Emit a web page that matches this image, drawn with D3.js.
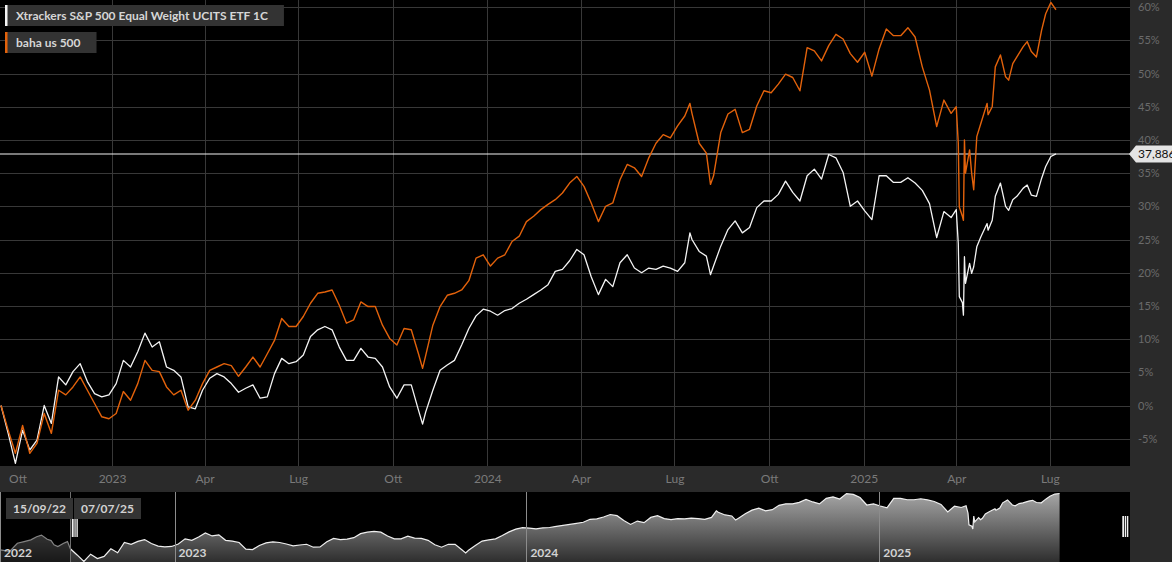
<!DOCTYPE html>
<html><head><meta charset="utf-8">
<script src="https://cdn.jsdelivr.net/npm/d3@7"></script>
<style>
html,body{margin:0;padding:0;background:#000;overflow:hidden;}
svg{display:block;font-family:Lato,"Noto Sans",sans-serif;}
</style></head><body>
<svg id="chart" width="1172" height="562"></svg>
<script>
// ---------- DATA ----------
const seriesNames = ["Xtrackers S&P 500 Equal Weight UCITS ETF 1C", "baha us 500"];
const dates = [
"2022-09-15","2022-09-22","2022-09-29","2022-10-06","2022-10-13","2022-10-20","2022-10-27","2022-11-03","2022-11-10","2022-11-17",
"2022-11-24","2022-12-01","2022-12-08","2022-12-15","2022-12-22","2022-12-29","2023-01-05","2023-01-12","2023-01-19","2023-01-26",
"2023-02-02","2023-02-09","2023-02-16","2023-02-23","2023-03-02","2023-03-09","2023-03-16","2023-03-23","2023-03-30","2023-04-06",
"2023-04-13","2023-04-20","2023-04-27","2023-05-04","2023-05-11","2023-05-18","2023-05-25","2023-06-01","2023-06-08","2023-06-15",
"2023-06-22","2023-06-29","2023-07-06","2023-07-13","2023-07-20","2023-07-27","2023-08-03","2023-08-10","2023-08-17","2023-08-24",
"2023-08-31","2023-09-07","2023-09-14","2023-09-21","2023-09-28","2023-10-05","2023-10-12","2023-10-19","2023-10-26","2023-10-30",
"2023-11-02","2023-11-09","2023-11-16","2023-11-23","2023-11-30","2023-12-07","2023-12-14","2023-12-21","2023-12-28","2024-01-04",
"2024-01-11","2024-01-18","2024-01-25","2024-02-01","2024-02-08","2024-02-15","2024-02-22","2024-02-29","2024-03-07","2024-03-14",
"2024-03-21","2024-03-28","2024-04-04","2024-04-11","2024-04-18","2024-04-25","2024-05-02","2024-05-09","2024-05-16","2024-05-23",
"2024-05-30","2024-06-06","2024-06-13","2024-06-20","2024-06-27","2024-07-04","2024-07-11","2024-07-16","2024-07-18","2024-07-25",
"2024-08-01","2024-08-05","2024-08-08","2024-08-15","2024-08-22","2024-08-29","2024-09-05","2024-09-12","2024-09-19","2024-09-26",
"2024-10-03","2024-10-10","2024-10-17","2024-10-24","2024-10-31","2024-11-07","2024-11-14","2024-11-21","2024-11-28","2024-12-05",
"2024-12-12","2024-12-19","2024-12-26","2025-01-02","2025-01-09","2025-01-16","2025-01-23","2025-01-30","2025-02-06","2025-02-13",
"2025-02-20","2025-02-27","2025-03-06","2025-03-13","2025-03-20","2025-03-27","2025-04-01","2025-04-03","2025-04-04","2025-04-07",
"2025-04-08","2025-04-09","2025-04-10","2025-04-14","2025-04-16","2025-04-18","2025-04-21","2025-04-25","2025-05-01","2025-05-02",
"2025-05-06","2025-05-09","2025-05-14","2025-05-19","2025-05-22","2025-05-26","2025-05-30","2025-06-05","2025-06-09","2025-06-13",
"2025-06-18","2025-06-23","2025-06-27","2025-07-02","2025-07-07"
];
const xtrackers = [
0,-4.2,-8.7,-3.7,-6.7,-5.2,0.0,-2.7,4.3,3.1,
5.1,6.3,3.6,1.8,1.3,1.6,3.3,6.8,5.8,8.1,
10.9,8.8,9.6,5.8,5.3,4.3,-0.2,-0.5,2.3,4.1,
4.8,4.3,3.3,2.0,2.6,3.1,1.1,1.3,4.8,7.1,
6.3,6.6,7.6,10.4,11.4,11.9,11.4,8.8,6.8,6.8,
8.6,7.3,7.1,5.8,2.8,1.1,3.1,3.1,-0.7,-2.8,
-1.0,2.3,5.3,6.1,6.8,9.1,11.6,13.5,14.5,14.2,
13.6,14.3,14.6,15.4,16.0,16.7,17.4,18.2,20.2,20.5,
21.8,23.5,22.7,19.4,16.7,19.0,17.9,21.5,22.7,20.7,
20.0,20.7,20.5,21.0,20.7,20.2,21.5,26.0,25.0,23.2,
22.5,19.7,21.0,24.0,26.5,27.8,26.0,26.8,29.8,30.8,
30.8,31.8,33.8,32.1,30.8,34.6,35.6,34.1,37.8,37.3,
35.1,30.0,30.8,29.3,28.0,34.6,34.6,33.6,33.6,34.3,
33.5,32.4,30.4,25.3,29.2,28.3,29.5,24.4,16.4,15.5,
13.6,22.4,18.4,21.4,19.9,20.9,23.9,25.4,27.4,26.4,
27.9,31.5,33.5,30.0,29.4,31.0,31.5,32.7,33.2,31.7,
31.5,34.2,36.0,37.5,37.886
];
const baha = [
0,-3.7,-7.2,-3.0,-7.2,-5.7,-1.2,-4.2,2.3,1.6,
2.8,4.3,2.3,0.3,-1.7,-2.0,-1.2,2.1,0.8,3.3,
6.8,5.3,5.1,2.8,1.6,2.3,-0.7,0.8,3.3,5.3,
5.8,6.3,6.0,4.4,5.8,7.3,5.8,7.8,9.8,13.1,
11.9,11.9,13.4,15.4,16.9,17.1,17.4,15.1,12.4,12.9,
15.6,14.9,14.9,12.1,10.1,9.1,11.6,11.4,7.8,5.6,
7.5,12.1,14.9,16.6,16.9,17.4,18.8,22.2,22.7,21.0,
22.2,22.7,24.7,25.5,27.7,28.5,29.5,30.3,31.0,32.0,
33.5,34.5,33.0,30.5,27.7,30.0,30.5,34.0,36.3,35.8,
34.5,37.3,39.5,40.8,40.3,42.1,43.6,45.5,44.0,39.5,
38.0,33.3,34.6,41.1,43.9,44.6,41.1,41.6,45.1,47.4,
47.1,48.4,49.9,49.4,47.4,53.9,53.4,51.9,54.2,55.9,
55.2,53.0,51.7,53.2,49.6,53.7,56.7,55.7,55.7,56.9,
55.5,51.0,47.5,42.0,46.0,44.0,45.0,39.5,29.9,28.5,
27.9,40.0,35.0,38.5,35.0,32.5,40.5,42.5,45.5,43.8,
45.0,51.0,52.8,49.5,49.0,51.5,52.5,54.0,54.8,53.3,
52.5,56.5,59.0,60.7,59.6
];
// navigator history before the selected range (Xtrackers, % vs 15/09/22)
const navPreDates = ["2022-07-04","2022-07-14","2022-07-22","2022-07-29","2022-08-05","2022-08-11","2022-08-16","2022-08-22","2022-08-26","2022-08-29","2022-09-02","2022-09-08","2022-09-12"];
const navPreValues = [-0.7,-1.8,3.8,4.9,6.1,8.3,9.4,6.5,5.6,2.7,1.5,3.8,4.9];

const yTicks = [-5,0,5,10,15,20,25,30,35,40,45,50,55,60];
const xTickDates = ["2022-10-01","2023-01-01","2023-04-01","2023-07-01","2023-10-01","2024-01-01","2024-04-01","2024-07-01","2024-10-01","2025-01-01","2025-04-01","2025-07-01"];
const xTickLabels = ["Ott","2023","Apr","Lug","Ott","2024","Apr","Lug","Ott","2025","Apr","Lug"];
const navYearDates = ["2023-01-01","2024-01-01","2025-01-01"];
const navYearLabels = ["2022","2023","2024","2025"];
const lastValueLabel = "37,886";
const rangeLabels = ["15/09/22","07/07/25"];
const mainDomain = ["2022-09-15","2025-09-17"];
const navDomain = ["2022-07-04","2025-09-17"];
const yDomain = [-9.11, 61.07];

// ---------- DRAW ----------
const W = 1172, H = 562, plotR = 1130, plotB = 466, navT = 492, navB = 562;
const parse = d3.timeParse("%Y-%m-%d");
const svg = d3.select("#chart");
const FONT = "Lato, 'Noto Sans', sans-serif";

svg.append("rect").attr("width", W).attr("height", H).attr("fill", "#000");
svg.append("rect").attr("x", plotR).attr("y", 0).attr("width", W - plotR).attr("height", H).attr("fill", "#2a2a2a");
svg.append("rect").attr("x", 0).attr("y", plotB).attr("width", plotR).attr("height", navT - plotB).attr("fill", "#2a2a2a");

const x = d3.scaleTime().domain(mainDomain.map(parse)).range([1, plotR]);
const y = d3.scaleLinear().domain(yDomain).range([plotB, 0]);

// grid
const grid = svg.append("g").attr("stroke", "#383838").attr("stroke-width", 1).attr("shape-rendering", "crispEdges");
grid.selectAll("line.h").data(yTicks).join("line").attr("class", "h")
  .attr("x1", 0).attr("x2", plotR).attr("y1", d => Math.round(y(d)) + 0.5).attr("y2", d => Math.round(y(d)) + 0.5);
grid.selectAll("line.v").data(xTickDates.slice(1)).join("line").attr("class", "v")
  .attr("y1", 0).attr("y2", plotB).attr("x1", d => Math.round(x(parse(d))) + 0.5).attr("x2", d => Math.round(x(parse(d))) + 0.5);

// last value line
const lastVal = xtrackers[xtrackers.length - 1];
svg.append("line").attr("x1", 0).attr("x2", plotR)
  .attr("y1", y(lastVal)).attr("y2", y(lastVal)).attr("stroke", "#f2f2f2").attr("stroke-width", 1.1);

// series
const pts = vals => dates.map((d, i) => [parse(d), vals[i]]);
const line = d3.line().x(d => x(d[0])).y(d => y(d[1]));
svg.append("path").datum(pts(xtrackers)).attr("d", line).attr("fill", "none")
  .attr("stroke", "#f4f4f4").attr("stroke-width", 1.3).attr("stroke-linejoin", "round");
svg.append("path").datum(pts(baha)).attr("d", line).attr("fill", "none")
  .attr("stroke", "#e3620b").attr("stroke-width", 1.4).attr("stroke-linejoin", "round");

// y axis
const yAx = svg.append("g").attr("transform", `translate(${plotR},0)`)
  .call(d3.axisRight(y).tickValues(yTicks).tickFormat(d => d + "%").tickSize(0).tickPadding(8));
yAx.select(".domain").remove();
yAx.attr("font-family", FONT).attr("font-size", 11);
yAx.selectAll("text").attr("fill", "#6b6b6b");

// x axis
const xAx = svg.append("g").attr("transform", `translate(0,${plotB})`)
  .call(d3.axisBottom(x).tickValues(xTickDates.map(parse)).tickFormat((d, i) => xTickLabels[i]).tickSize(0).tickPadding(8));
xAx.select(".domain").remove();
xAx.attr("font-family", FONT).attr("font-size", 12);
xAx.selectAll("text").attr("fill", "#7a7a7a");

// last value label
const ly = y(lastVal);
svg.append("path")
  .attr("d", `M${plotR - 1},${ly} L${plotR + 6},${ly - 8.5} L${W},${ly - 8.5} L${W},${ly + 8.5} L${plotR + 6},${ly + 8.5} Z`)
  .attr("fill", "#e4e4e4");
svg.append("text").attr("x", plotR + 8).attr("y", ly + 4.5).attr("font-family", FONT).attr("font-size", 12)
  .attr("fill", "#111").text(lastValueLabel);

// legend
const legColors = ["#f4f4f4", "#e3620b"];
const leg = svg.append("g").attr("font-family", FONT).attr("font-size", 12).attr("font-weight", "bold");
seriesNames.forEach((name, i) => {
  const g = leg.append("g").attr("transform", `translate(5,${5 + i * 27})`);
  const t = g.append("text").attr("x", 11).attr("y", 15).attr("fill", "#d6d6d6").text(name);
  const w = t.node().getComputedTextLength();
  g.insert("rect", "text").attr("width", w + 27).attr("height", 21).attr("fill", "#333");
  g.insert("rect", "text").attr("width", 2.5).attr("height", 21).attr("fill", legColors[i]);
});

// ---------- NAVIGATOR ----------
const xn = d3.scaleTime().domain(navDomain.map(parse)).range([0, plotR - 1]);
const navPts = navPreDates.map((d, i) => [parse(d), navPreValues[i]])
  .concat(dates.map((d, i) => [parse(d), xtrackers[i]]));
const yn = d3.scaleLinear().domain(d3.extent(navPts, d => d[1])).range([561.5, 493.5]);

const defs = svg.append("defs");
const grad = defs.append("linearGradient").attr("id", "navGrad").attr("gradientUnits", "userSpaceOnUse")
  .attr("x1", 0).attr("x2", 0).attr("y1", navT).attr("y2", navB);
grad.append("stop").attr("offset", 0).attr("stop-color", "#a8a8a8");
grad.append("stop").attr("offset", 1).attr("stop-color", "#2e2e2e");

svg.append("path").datum(navPts)
  .attr("d", d3.area().x(d => xn(d[0])).y0(navB).y1(d => yn(d[1])))
  .attr("fill", "url(#navGrad)");
svg.append("path").datum(navPts)
  .attr("d", d3.line().x(d => xn(d[0])).y(d => yn(d[1])))
  .attr("fill", "none").attr("stroke", "#efefef").attr("stroke-width", 1.2);

// mask before selection
const selX = xn(parse(dates[0]));
svg.append("rect").attr("x", 0).attr("y", navT).attr("width", selX).attr("height", navB - navT).attr("fill", "rgba(0,0,0,0.45)");
svg.append("line").attr("x1", 0.5).attr("x2", 0.5).attr("y1", navT).attr("y2", navB).attr("stroke", "#8c8c8c");
svg.append("line").attr("x1", Math.round(selX) + 0.5).attr("x2", Math.round(selX) + 0.5).attr("y1", navT).attr("y2", navB).attr("stroke", "#6e6e6e");

// year lines and labels
svg.selectAll("line.ny").data(navYearDates).join("line").attr("class", "ny")
  .attr("x1", d => Math.round(xn(parse(d))) + 0.5).attr("x2", d => Math.round(xn(parse(d))) + 0.5)
  .attr("y1", navT).attr("y2", navB).attr("stroke", "#8c8c8c").attr("stroke-width", 1);
const navLabX = [4].concat(navYearDates.map(d => xn(parse(d)) + 4));
svg.selectAll("text.nyl").data(navYearLabels).join("text").attr("class", "nyl")
  .attr("x", (d, i) => navLabX[i]).attr("y", 557)
  .attr("font-family", FONT).attr("font-size", 12).attr("font-weight", "bold").attr("fill", "#d2d2d2").text(d => d);

// range label boxes
const rl = svg.append("g").attr("font-family", FONT).attr("font-size", 12).attr("font-weight", "bold");
[[6, 67], [74, 67]].forEach((b, i) => {
  rl.append("rect").attr("x", b[0]).attr("y", 498).attr("width", b[1]).attr("height", 21).attr("fill", "#333");
  rl.append("text").attr("x", b[0] + b[1] / 2).attr("y", 513).attr("text-anchor", "middle").attr("fill", "#d2d2d2").text(rangeLabels[i]);
});

// handles
function handle(hx, hy, hh) {
  const g = svg.append("g");
  g.append("rect").attr("x", hx).attr("y", hy).attr("width", 6).attr("height", hh).attr("fill", "#f0f0f0");
  [1.8, 3.8].forEach(o => g.append("rect").attr("x", hx + o).attr("y", hy).attr("width", 0.9).attr("height", hh).attr("fill", "#222"));
}
handle(71.8, 519, 18);
handle(1122.3, 516, 21);
</script>
</body></html>
